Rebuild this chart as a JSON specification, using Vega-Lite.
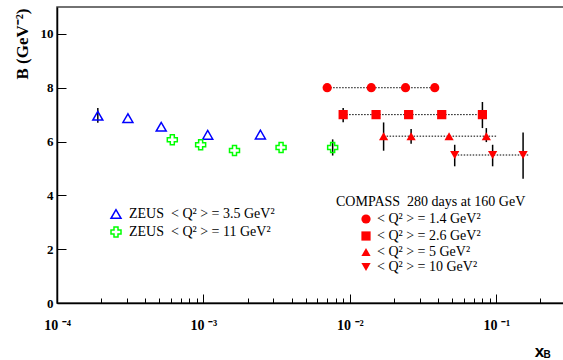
{
  "$schema": "https://vega.github.io/schema/vega-lite/v6.json",
  "width": 507,
  "height": 296,
  "autosize": "none",
  "padding": {"left": 57, "top": 7, "right": 0, "bottom": 57},
  "background": "white",
  "config": {"view": {"stroke": "#444444", "strokeWidth": 1.5}, "font": "Liberation Serif"},
  "datasets": {
    "points": [
      {"set": "ZEUS", "series": "ZEUS\u00a0\u00a0< Q² > = 3.5 GeV²", "x": 0.00019, "y": 6.96, "lo": 6.7, "hi": 7.25},
      {"set": "ZEUS", "series": "ZEUS\u00a0\u00a0< Q² > = 3.5 GeV²", "x": 0.000305, "y": 6.87},
      {"set": "ZEUS", "series": "ZEUS\u00a0\u00a0< Q² > = 3.5 GeV²", "x": 0.000515, "y": 6.55},
      {"set": "ZEUS", "series": "ZEUS\u00a0\u00a0< Q² > = 3.5 GeV²", "x": 0.00107, "y": 6.25},
      {"set": "ZEUS", "series": "ZEUS\u00a0\u00a0< Q² > = 3.5 GeV²", "x": 0.00245, "y": 6.26},
      {"set": "ZEUS", "series": "ZEUS\u00a0\u00a0< Q² > = 11 GeV²", "x": 0.000613, "y": 6.07},
      {"set": "ZEUS", "series": "ZEUS\u00a0\u00a0< Q² > = 11 GeV²", "x": 0.000957, "y": 5.88},
      {"set": "ZEUS", "series": "ZEUS\u00a0\u00a0< Q² > = 11 GeV²", "x": 0.00163, "y": 5.67},
      {"set": "ZEUS", "series": "ZEUS\u00a0\u00a0< Q² > = 11 GeV²", "x": 0.00339, "y": 5.78},
      {"set": "ZEUS", "series": "ZEUS\u00a0\u00a0< Q² > = 11 GeV²", "x": 0.00763, "y": 5.78, "lo": 5.48, "hi": 6.08},
      {"set": "COMPASS", "series": "< Q² > = 1.4 GeV²", "x": 0.007, "y": 8.0},
      {"set": "COMPASS", "series": "< Q² > = 1.4 GeV²", "x": 0.014, "y": 8.0},
      {"set": "COMPASS", "series": "< Q² > = 1.4 GeV²", "x": 0.024, "y": 8.0},
      {"set": "COMPASS", "series": "< Q² > = 1.4 GeV²", "x": 0.038, "y": 8.0},
      {"set": "COMPASS", "series": "< Q² > = 2.6 GeV²", "x": 0.009, "y": 7.0, "lo": 6.72, "hi": 7.25},
      {"set": "COMPASS", "series": "< Q² > = 2.6 GeV²", "x": 0.0151, "y": 7.0},
      {"set": "COMPASS", "series": "< Q² > = 2.6 GeV²", "x": 0.0252, "y": 7.0},
      {"set": "COMPASS", "series": "< Q² > = 2.6 GeV²", "x": 0.0424, "y": 7.0},
      {"set": "COMPASS", "series": "< Q² > = 2.6 GeV²", "x": 0.0804, "y": 7.0, "lo": 6.5, "hi": 7.47},
      {"set": "COMPASS", "series": "< Q² > = 5 GeV²", "x": 0.017, "y": 6.2, "lo": 5.66, "hi": 6.71},
      {"set": "COMPASS", "series": "< Q² > = 5 GeV²", "x": 0.0262, "y": 6.2, "lo": 5.92, "hi": 6.47},
      {"set": "COMPASS", "series": "< Q² > = 5 GeV²", "x": 0.0476, "y": 6.2},
      {"set": "COMPASS", "series": "< Q² > = 5 GeV²", "x": 0.0855, "y": 6.2, "lo": 5.98, "hi": 6.5},
      {"set": "COMPASS", "series": "< Q² > = 10 GeV²", "x": 0.052, "y": 5.5, "lo": 5.08, "hi": 5.88},
      {"set": "COMPASS", "series": "< Q² > = 10 GeV²", "x": 0.0944, "y": 5.5, "lo": 5.08, "hi": 5.88},
      {"set": "COMPASS", "series": "< Q² > = 10 GeV²", "x": 0.1524, "y": 5.5, "lo": 4.62, "hi": 6.34}
    ],
    "lines": [
      {"series": "1.4", "x": 0.007, "x2": 0.038, "y": 8.0},
      {"series": "2.6", "x": 0.009, "x2": 0.0804, "y": 7.0},
      {"series": "5", "x": 0.017, "x2": 0.101, "y": 6.2},
      {"series": "10", "x": 0.052, "x2": 0.166, "y": 5.5}
    ],
    "sub": [{"x": 0.222, "y": -1.95, "t": "B"}]
  },
  "layer": [
    {
      "data": {"name": "lines"},
      "mark": {"type": "rule", "strokeDash": [1.5, 1.5], "color": "black", "strokeWidth": 1},
      "encoding": {
        "x": {
          "field": "x", "type": "quantitative",
          "scale": {"type": "log", "domain": [0.0001, 0.29], "nice": false},
          "axis": {
            "title": "x",
            "titleFont": "Liberation Sans", "titleFontWeight": "bold", "titleFontSize": 17,
            "titleX": 482, "titleY": 53, "titleAlign": "center", "titleBaseline": "alphabetic", "titleColor": "black",
            "values": [0.0001,0.0002,0.0003,0.0004,0.0005,0.0006,0.0007,0.0008,0.0009,0.001,0.002,0.003,0.004,0.005,0.006,0.007,0.008,0.009,0.01,0.02,0.03,0.04,0.05,0.06,0.07,0.08,0.09,0.1,0.2],
            "labelExpr": "datum.value == 0.0001 ? '10 ⁻⁴' : datum.value == 0.001 ? '10 ⁻³' : datum.value == 0.01 ? '10 ⁻²' : datum.value == 0.1 ? '10 ⁻¹' : ''",
            "labelFont": "Liberation Serif", "labelFontWeight": "bold", "labelFontSize": 14, "labelColor": "black",
            "labelPadding": 24, "labelBaseline": "top", "labelFlush": false, "labelOverlap": false, "labelAlign": "center",
            "tickSize": {"condition": {"test": "indexof([0.0001,0.001,0.01,0.1], datum.value) >= 0", "value": -9}, "value": -5},
            "tickColor": "black", "tickWidth": 1, "domainColor": "black", "domainWidth": 1.5, "grid": false
          }
        },
        "x2": {"field": "x2"},
        "y": {
          "field": "y", "type": "quantitative",
          "scale": {"domain": [0, 11], "nice": false},
          "axis": {
            "title": "B (GeV⁻²)",
            "titleFont": "Liberation Serif", "titleFontWeight": "bold", "titleFontSize": 17, "titleColor": "black",
            "titleAngle": -90, "titleX": -30, "titleY": 1, "titleAlign": "right", "titleBaseline": "alphabetic",
            "values": [0,0.5,1,1.5,2,2.5,3,3.5,4,4.5,5,5.5,6,6.5,7,7.5,8,8.5,9,9.5,10,10.5],
            "labelExpr": "datum.value % 2 == 0 ? datum.label : ''",
            "labelFont": "Liberation Serif", "labelFontWeight": "bold", "labelFontSize": 13, "labelColor": "black",
            "labelPadding": 13, "labelOverlap": false, "labelFlush": false,
            "tickSize": {"condition": {"test": "datum.value % 2 == 0", "value": -9}, "value": -5},
            "tickColor": "black", "tickWidth": 1, "domainColor": "black", "domainWidth": 1.5, "grid": false
          }
        }
      }
    },
    {
      "data": {"name": "points"},
      "transform": [{"filter": "isValid(datum.lo)"}],
      "mark": {"type": "rule", "color": "black", "strokeWidth": 1.5},
      "encoding": {
        "x": {"field": "x", "type": "quantitative"},
        "y": {"field": "lo", "type": "quantitative"},
        "y2": {"field": "hi"}
      }
    },
    {
      "data": {"name": "points"},
      "transform": [{"filter": "datum.set == 'ZEUS'"}],
      "mark": {"type": "point", "filled": false, "strokeWidth": 1.5, "size": 100, "opacity": 1},
      "encoding": {
        "x": {"field": "x", "type": "quantitative"},
        "y": {"field": "y", "type": "quantitative"},
        "shape": {
          "field": "series", "type": "nominal",
          "scale": {"domain": ["ZEUS\u00a0\u00a0< Q² > = 3.5 GeV²", "ZEUS\u00a0\u00a0< Q² > = 11 GeV²"], "range": ["triangle-up", "cross"]},
          "legend": {"title": null, "orient": "none", "legendX": 52, "legendY": 200, "labelFont": "Liberation Serif", "labelFontSize": 14, "labelColor": "black", "symbolSize": 100, "symbolStrokeWidth": 1.5, "labelOffset": 6, "rowPadding": 2, "padding": 0, "labelLimit": 400}
        },
        "color": {
          "field": "series", "type": "nominal",
          "scale": {"domain": ["ZEUS\u00a0\u00a0< Q² > = 3.5 GeV²", "ZEUS\u00a0\u00a0< Q² > = 11 GeV²"], "range": ["#0000ff", "#00ff00"]},
          "legend": {"title": null, "orient": "none", "legendX": 52, "legendY": 200, "labelFont": "Liberation Serif", "labelFontSize": 14, "labelColor": "black", "symbolSize": 100, "symbolStrokeWidth": 1.5, "labelOffset": 6, "rowPadding": 2, "padding": 0, "labelLimit": 400}
        }
      }
    },
    {
      "data": {"name": "points"},
      "transform": [{"filter": "datum.set == 'COMPASS'"}],
      "mark": {"type": "point", "filled": true, "color": "#ff0000", "size": 85, "opacity": 1},
      "encoding": {
        "x": {"field": "x", "type": "quantitative"},
        "y": {"field": "y", "type": "quantitative"},
        "shape": {
          "field": "series", "type": "nominal",
          "scale": {"domain": ["< Q² > = 1.4 GeV²", "< Q² > = 2.6 GeV²", "< Q² > = 5 GeV²", "< Q² > = 10 GeV²"], "range": ["circle", "square", "triangle-up", "triangle-down"]},
          "legend": {"title": "COMPASS\u00a0\u00a0280 days at 160 GeV", "titleFont": "Liberation Serif", "titleFontWeight": "normal", "titleFontSize": 14, "titleColor": "black", "titleLimit": 400, "titleAnchor": "start", "titlePadding": 3, "orient": "none", "legendX": 279, "legendY": 188, "symbolOffset": 23, "labelFont": "Liberation Serif", "labelFontSize": 14, "labelColor": "black", "symbolSize": 85, "symbolFillColor": "#ff0000", "symbolStrokeColor": "#ff0000", "labelOffset": 4, "rowPadding": 1, "padding": 0, "labelLimit": 400}
        }
      }
    },
    {
      "data": {"name": "sub"},
      "mark": {"type": "text", "font": "Liberation Sans", "fontWeight": "bold", "fontSize": 10, "color": "black"},
      "encoding": {
        "x": {"field": "x", "type": "quantitative"},
        "y": {"field": "y", "type": "quantitative"},
        "text": {"field": "t"}
      }
    }
  ],
  "resolve": {"scale": {"shape": "independent", "color": "independent"}}
}
